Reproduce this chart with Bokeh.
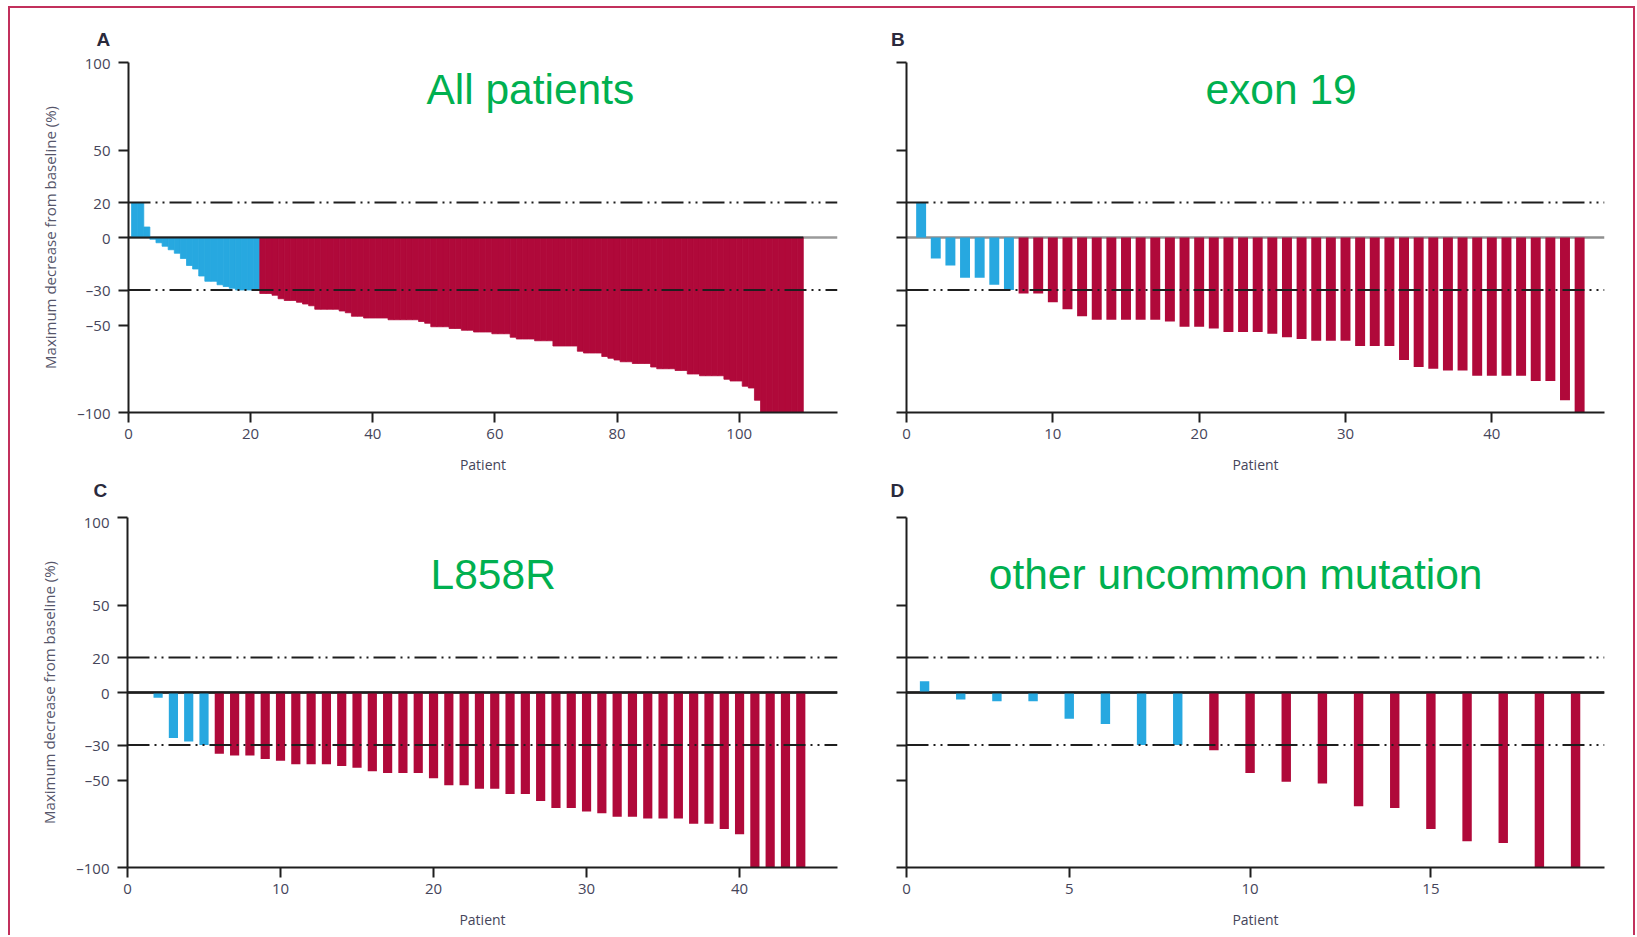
from bokeh.plotting import figure
from bokeh.models import Span, Label, FixedTicker, ColumnDataSource, Range1d, Title
from bokeh.layouts import column, row
from bokeh.embed import file_html
from bokeh.resources import INLINE

# ---------------- data ----------------
y_ticks = [-100, -50, -30, 0, 20, 50, 100]
y_tick_labels = {-100: "–100", -50: "–50", -30: "–30", 0: "0", 20: "20", 50: "50", 100: "100"}
y_tick_blank = {-100: "", -50: "", -30: "", 0: "", 20: "", 50: "", 100: ""}
threshold_pd = 20
threshold_pr = -30

titles = ["All patients", "exon 19", "L858R", "other uncommon mutation"]
letters = ["A", "B", "C", "D"]
x_label = "Patient"
y_label = "Maximum decrease from baseline (%)"

all_patients = [20, 20, 6, -1, -3, -5, -7, -9, -12, -16, -18, -22, -25, -25, -27, -28, -29, -30, -30, -30, -30,
                -32, -32, -33, -35, -36, -36, -37, -38, -39, -41,
                -41, -41, -41, -42, -43, -45, -45, -46, -46, -46,
                -46, -47, -47, -47, -47, -47, -48, -49, -51, -51,
                -51, -52, -52, -53, -53, -54, -54, -54, -55, -55,
                -55, -57, -58, -58, -58, -59, -59, -59, -62, -62,
                -62, -62, -65, -66, -66, -66, -68, -69, -70, -71,
                -71, -72, -72, -72, -74, -75, -75, -75, -76, -76,
                -78, -78, -79, -79, -79, -79, -81, -82, -82, -85,
                -86, -93, -100, -100, -100, -100, -100, -100, -100]

exon19 = [20, -12, -16, -23, -23, -27, -30, -32, -32, -37,
          -41, -45, -47, -47, -47, -47, -47, -48, -51, -51,
          -52, -54, -54, -54, -55, -57, -58, -59, -59, -59,
          -62, -62, -62, -70, -74, -75, -76, -76, -79, -79,
          -79, -79, -82, -82, -93, -100]

l858r = [0, -3, -26, -28, -30, -35, -36, -36, -38, -39,
         -41, -41, -41, -42, -43, -45, -46, -46, -46, -49,
         -53, -53, -55, -55, -58, -58, -62, -66, -66, -68,
         -69, -71, -71, -72, -72, -72, -75, -75, -78, -81,
         -100, -100, -100, -100]

uncommon = [6.5, -4, -5, -5, -15, -18, -30, -30, -33, -46,
            -51, -52, -65, -66, -78, -85, -86, -102, -102]

x_ticks_a = [0, 20, 40, 60, 80, 100]
x_ticks_bc = [0, 10, 20, 30, 40]
x_ticks_d = [0.5, 5, 10, 15]
x_tick_labels_d = {0.5: "0", 5: "5", 10: "10", 15: "15"}

# ---------------- style ----------------
BLUE = "#27a8e0"
RED = "#b0093a"
GREEN = "#00b050"
INK = "#1e1e1e"
TXT = "#45455a"
LETTER = "#2a2a3c"
LBL_FONT = "Open Sans"
BORDER = "#c2305c"


def letter_title(text, offset, standoff):
    t = Title(text=text, align="left", offset=offset, standoff=standoff,
              text_font="Liberation Sans", text_font_size="19px",
              text_font_style="bold", text_color=LETTER)
    return t


def make_panel(values, title, x_start, x_end, x_ticks, x_overrides,
               title_x, title_y, show_ylabels, bar_width,
               bl, fw, br, bt, bb, zero_color, zero_on_top):
    p = figure(width=bl + fw + br, height=bt + 350 + bb,
               frame_width=fw, frame_height=350,
               min_border_left=bl, min_border_right=br,
               min_border_top=bt, min_border_bottom=bb,
               x_range=Range1d(x_start, x_end), y_range=Range1d(-100, 100),
               output_backend="svg", toolbar_location=None)
    p.border_fill_alpha = 0
    p.background_fill_alpha = 0
    p.outline_line_color = None
    p.grid.visible = False

    xs = list(range(1, len(values) + 1))
    colors = [BLUE if v >= threshold_pr else RED for v in values]
    src = ColumnDataSource(dict(x=xs, top=values, color=colors))

    p.add_layout(Span(location=0, dimension="width", line_color=zero_color,
                      line_width=2.4, level="underlay"))

    if bar_width >= 1:
        p.vbar(x="x", top="top", bottom=0, width=bar_width, source=src,
               fill_color="color", line_color="color", line_width=0.8)
    else:
        p.vbar(x="x", top="top", bottom=0, width=bar_width, source=src,
               fill_color="color", line_color=None)

    if zero_on_top:
        p.add_layout(Span(location=0, dimension="width", line_color=zero_color, line_width=2.2))

    for loc in (threshold_pd, threshold_pr):
        p.add_layout(Span(location=loc, dimension="width", line_color=INK, line_width=2,
                          line_dash="22 5 2 5 2 5"))

    p.add_layout(Label(x=title_x, y=title_y, text=title, text_align="center",
                       text_baseline="alphabetic", text_font="Liberation Sans",
                       text_font_size="42.5px", text_color=GREEN))

    for ax in (p.xaxis[0], p.yaxis[0]):
        ax.axis_line_color = INK
        ax.axis_line_width = 2
        ax.major_tick_line_color = INK
        ax.major_tick_line_width = 2
        ax.major_tick_out = 10
        ax.major_tick_in = 0
        ax.minor_tick_line_color = None
        ax.major_label_text_font = LBL_FONT
        ax.major_label_text_font_size = "15px"
        ax.major_label_text_color = TXT

    xa = p.xaxis[0]
    xa.ticker = FixedTicker(ticks=x_ticks)
    if x_overrides:
        xa.major_label_overrides = x_overrides
    xa.major_label_standoff = 6
    xa.axis_label = x_label
    xa.axis_label_text_font = LBL_FONT
    xa.axis_label_text_font_size = "14px"
    xa.axis_label_text_font_style = "normal"
    xa.axis_label_text_color = TXT
    xa.axis_label_standoff = 13

    ya = p.yaxis[0]
    ya.ticker = FixedTicker(ticks=y_ticks)
    if show_ylabels:
        ya.major_label_overrides = y_tick_labels
        ya.major_label_standoff = 8
        ya.axis_label = y_label
        ya.axis_label_text_font = LBL_FONT
        ya.axis_label_text_font_size = "15px"
        ya.axis_label_text_font_style = "normal"
        ya.axis_label_text_color = "#55556a"
        ya.axis_label_standoff = 14
    else:
        ya.major_label_overrides = y_tick_blank
        ya.major_label_standoff = 0
    return p


ROW1_BOTTOM = 99
ROW2_TOP = 517 - 62 - 350 - ROW1_BOTTOM

pA = make_panel(all_patients, titles[0], 0, 116.1, x_ticks_a, None,
                65.8, 84.8, True, 1, 128, 709, 31, 62, ROW1_BOTTOM, "#9a9a9a", False)
# black zero line over the data extent of panel A (grey beyond)
pA.line(x=[0, len(all_patients) + 0.5], y=[0, 0], line_color=INK, line_width=2.2)

pB = make_panel(exon19, titles[1], 0, 47.7, x_ticks_bc, None,
                25.6, 84.8, False, 0.68, 38, 698, 31, 62, ROW1_BOTTOM, "#8f8f8f", False)

pC = make_panel(l858r, titles[2], 0, 46.4, x_ticks_bc, None,
                23.9, 67.7, True, 0.6, 127, 710, 31, ROW2_TOP, 68, INK, True)

pD = make_panel(uncommon, titles[3], 0.5, 19.8, x_ticks_d, x_tick_labels_d,
                9.6, 67.7, False, 0.26, 38, 698, 31, ROW2_TOP, 68, INK, True)

# panel letters: A, B above the top panels; C, D in the band below them
pA.add_layout(letter_title(letters[0], -32, 26), "above")
pB.add_layout(letter_title(letters[1], -15.5, 26), "above")
pA.add_layout(letter_title(letters[2], -35, 3), "below")
pB.add_layout(letter_title(letters[3], -16, 3), "below")

shadow = (f"inset 8px 0 0 #ffffff, inset 0 6px 0 #ffffff, "
          f"inset 10px 0 0 {BORDER}, inset 0 8px 0 {BORDER}, inset -2px 0 0 {BORDER}")
layout = column(row(pA, pB), row(pC, pD), styles={"box-shadow": shadow})

open("out.html", "w").write(file_html(layout, INLINE))
